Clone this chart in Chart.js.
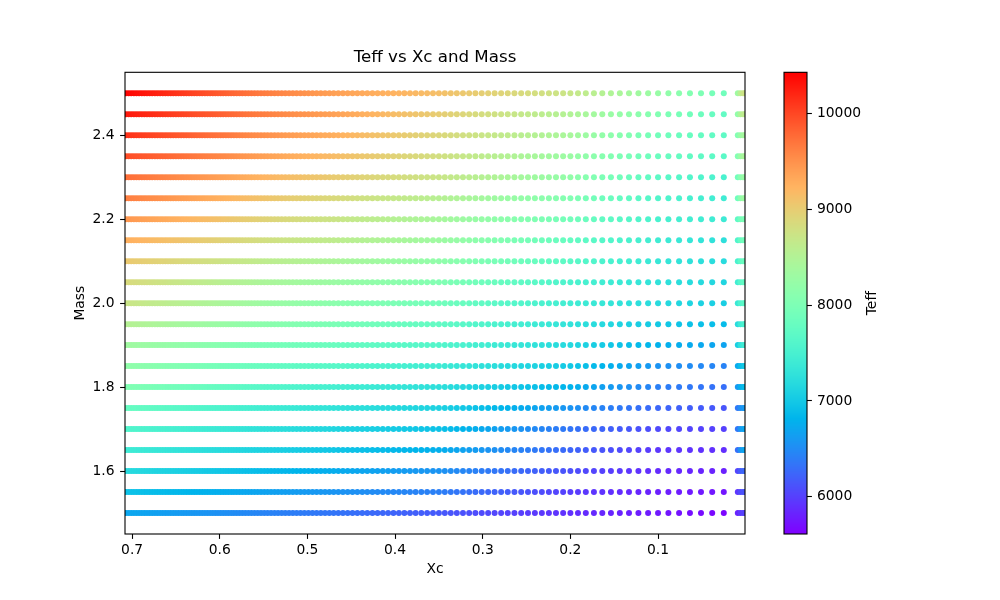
<!DOCTYPE html>
<html><head><meta charset="utf-8">
<script src="https://cdn.jsdelivr.net/npm/chart.js@4.4.1/dist/chart.umd.min.js"></script>
<style>html,body{margin:0;padding:0;background:#fff;}#wrap{position:relative;width:1000px;height:600px;}canvas{position:absolute;left:0;top:0;}</style>
</head><body><div id="wrap"><canvas id="main" width="1000" height="600"></canvas><canvas id="cbar" width="1000" height="600"></canvas></div>
<script>
// ---- data ----
const masses = [2.50,2.45,2.40,2.35,2.30,2.25,2.20,2.15,2.10,2.05,2.00,1.95,1.90,1.85,1.80,1.75,1.70,1.65,1.60,1.55,1.50];
const xcGrid = [0.710,0.707,0.704,0.701,0.698,0.695,0.692,0.689,0.686,0.683,0.680,0.677,0.674,0.671,0.668,0.665,0.662,0.659,0.656,0.653,0.650,0.647,0.644,0.641,0.638,0.635,0.632,0.629,0.626,0.623,0.620,0.617,0.614,0.611,0.608,0.605,0.602,0.599,0.596,0.593,0.590,
0.58697,0.58387,0.5807,0.57747,0.57417,0.5708,0.56737,0.56387,0.5603,0.55667,0.55297,0.5492,0.54537,0.54147,0.5375,0.53347,0.52937,0.5252,0.52097,0.51667,0.5123,0.50787,0.50337,0.4988,0.49417,0.48947,0.4847,0.47987,0.47497,0.47,
0.46476,0.45944,0.45404,0.44856,0.443,0.43736,0.43164,0.42584,0.41996,0.414,0.40796,0.40184,0.39564,0.38936,0.383,0.37656,0.37004,0.36344,0.35676,0.35,
0.34326,0.33644,0.32954,0.32256,0.3155,0.30836,0.30114,0.29384,0.28646,0.279,0.27146,0.26384,0.25614,0.24836,0.2405,0.23256,0.22454,0.21644,0.20826,0.20,
0.19135,0.1824,0.17315,0.1636,0.15375,0.1436,0.13315,0.1224,0.11135,0.10,
0.0882,0.076,0.0636,0.051,0.0382,0.025,
0.009,0.006,0.003,0.001];
const teffM250 = [10430,10415,10400,10385,10370,10355,10340,10325,10310,10295,10280,10265,10250,10235,10220,10205,10190,10175,10160,10145,10130,10115,10100,10085,10070,10055,10040,10025,10010,9995,9980,9965,9950,9935,9920,9905,9890,9875,9860,9845,9830,
9815,9801,9786,9771,9757,9742,9727,9713,9698,9683,9669,9654,9639,9625,9610,9595,9581,9566,9551,9537,9522,9507,9493,9478,9463,9449,9434,9419,9405,9390,
9377,9364,9351,9338,9325,9312,9299,9286,9273,9260,9247,9234,9221,9208,9195,9182,9169,9156,9143,9130,
9109,9088,9067,9046,9025,9004,8983,8962,8941,8920,8899,8878,8857,8836,8815,8794,8773,8752,8731,8710,
8664,8618,8572,8526,8480,8434,8388,8342,8296,8250,
8188,8127,8065,8003,7942,7880,
8320,8580,8710,8750];
const teffM245 = [10300,10288,10275,10263,10250,10238,10225,10213,10200,10188,10175,10163,10150,10138,10125,10113,10100,10088,10075,10063,10050,10038,10025,10013,10000,9988,9975,9963,9950,9938,9925,9913,9900,9888,9875,9863,9850,9838,9825,9813,9800,
9786,9772,9758,9744,9730,9716,9702,9688,9674,9660,9646,9632,9618,9604,9590,9576,9562,9548,9534,9520,9506,9492,9478,9464,9450,9436,9422,9408,9394,9380,
9361,9342,9323,9304,9285,9266,9247,9228,9209,9190,9171,9152,9133,9114,9095,9076,9057,9038,9019,9000,
8975,8950,8925,8900,8875,8850,8825,8800,8775,8750,8725,8700,8675,8650,8625,8600,8575,8550,8525,8500,
8455,8410,8365,8320,8275,8230,8185,8140,8095,8050,
8000,7950,7900,7850,7800,7750,
8185,8450,8580,8620];
const teffM240 = [10150,10138,10126,10114,10102,10090,10078,10066,10054,10042,10030,10018,10006,9994,9982,9970,9958,9946,9934,9922,9910,9898,9886,9874,9862,9850,9838,9826,9814,9802,9790,9778,9766,9754,9742,9730,9718,9706,9694,9682,9670,
9657,9643,9630,9617,9603,9590,9577,9563,9550,9537,9523,9510,9497,9483,9470,9457,9443,9430,9417,9403,9390,9377,9363,9350,9337,9323,9310,9297,9283,9270,
9251,9232,9213,9194,9175,9156,9137,9118,9099,9080,9061,9042,9023,9004,8985,8966,8947,8928,8909,8890,
8866,8842,8818,8794,8770,8746,8722,8698,8674,8650,8626,8602,8578,8554,8530,8506,8482,8458,8434,8410,
8359,8308,8257,8206,8155,8104,8053,8002,7951,7900,
7870,7840,7810,7780,7750,7720,
8050,8250,8350,8380];
const teffM235 = [9980,9969,9958,9947,9936,9925,9914,9903,9892,9881,9870,9859,9848,9837,9826,9815,9804,9793,9782,9771,9760,9749,9738,9727,9716,9705,9694,9683,9672,9661,9650,9639,9628,9617,9606,9595,9584,9573,9562,9551,9540,
9527,9515,9502,9489,9477,9464,9451,9439,9426,9413,9401,9388,9375,9363,9350,9337,9325,9312,9299,9287,9274,9261,9249,9236,9223,9211,9198,9185,9173,9160,
9142,9124,9106,9088,9070,9052,9034,9016,8998,8980,8962,8944,8926,8908,8890,8872,8854,8836,8818,8800,
8774,8748,8722,8696,8670,8644,8618,8592,8566,8540,8514,8488,8462,8436,8410,8384,8358,8332,8306,8280,
8235,8190,8145,8100,8055,8010,7965,7920,7875,7830,
7805,7780,7755,7730,7705,7680,
8050,8270,8380,8420];
const teffM230 = [9760,9750,9740,9730,9720,9710,9700,9690,9680,9670,9660,9650,9640,9630,9620,9610,9600,9590,9580,9570,9560,9550,9540,9530,9520,9510,9500,9490,9480,9470,9460,9450,9440,9430,9420,9410,9400,9390,9380,9370,9360,
9349,9337,9326,9315,9303,9292,9281,9269,9258,9247,9235,9224,9213,9201,9190,9179,9167,9156,9145,9133,9122,9111,9099,9088,9077,9065,9054,9043,9031,9020,
9005,8990,8975,8960,8945,8930,8915,8900,8885,8870,8855,8840,8825,8810,8795,8780,8765,8750,8735,8720,
8694,8668,8642,8616,8590,8564,8538,8512,8486,8460,8434,8408,8382,8356,8330,8304,8278,8252,8226,8200,
8150,8100,8050,8000,7950,7900,7850,7800,7750,7700,
7670,7640,7610,7580,7550,7520,
7890,8100,8210,8250];
const teffM225 = [9650,9640,9629,9619,9608,9598,9587,9577,9566,9556,9545,9535,9524,9514,9503,9493,9482,9472,9461,9451,9440,9430,9419,9409,9398,9388,9377,9367,9356,9346,9335,9325,9314,9304,9293,9283,9272,9262,9251,9241,9230,
9218,9206,9194,9182,9170,9158,9146,9134,9122,9110,9098,9086,9074,9062,9050,9038,9026,9014,9002,8990,8978,8966,8954,8942,8930,8918,8906,8894,8882,8870,
8854,8838,8822,8806,8790,8774,8758,8742,8726,8710,8694,8678,8662,8646,8630,8614,8598,8582,8566,8550,
8525,8500,8475,8450,8425,8400,8375,8350,8325,8300,8275,8250,8225,8200,8175,8150,8125,8100,8075,8050,
8005,7960,7915,7870,7825,7780,7735,7690,7645,7600,
7570,7540,7510,7480,7450,7420,
7860,8120,8260,8300];
const teffM220 = [9470,9460,9450,9440,9430,9420,9410,9400,9390,9380,9370,9360,9350,9340,9330,9320,9310,9300,9290,9280,9270,9260,9250,9240,9230,9220,9210,9200,9190,9180,9170,9160,9150,9140,9130,9120,9110,9100,9090,9080,9070,
9059,9047,9036,9025,9013,9002,8991,8979,8968,8957,8945,8934,8923,8911,8900,8889,8877,8866,8855,8843,8832,8821,8809,8798,8787,8775,8764,8753,8741,8730,
8714,8698,8682,8666,8650,8634,8618,8602,8586,8570,8554,8538,8522,8506,8490,8474,8458,8442,8426,8410,
8385,8360,8335,8310,8285,8260,8235,8210,8185,8160,8135,8110,8085,8060,8035,8010,7985,7960,7935,7910,
7871,7832,7793,7754,7715,7676,7637,7598,7559,7520,
7500,7480,7460,7440,7420,7400,
7700,7880,7970,8000];
const teffM215 = [9280,9271,9262,9253,9244,9235,9226,9217,9208,9199,9190,9181,9172,9163,9154,9145,9136,9127,9118,9109,9100,9091,9082,9073,9064,9055,9046,9037,9028,9019,9010,9001,8992,8983,8974,8965,8956,8947,8938,8929,8920,
8910,8900,8890,8880,8870,8860,8850,8840,8830,8820,8810,8800,8790,8780,8770,8760,8750,8740,8730,8720,8710,8700,8690,8680,8670,8660,8650,8640,8630,8620,
8605,8590,8575,8560,8545,8530,8515,8500,8485,8470,8455,8440,8425,8410,8395,8380,8365,8350,8335,8320,
8293,8266,8239,8212,8185,8158,8131,8104,8077,8050,8023,7996,7969,7942,7915,7888,7861,7834,7807,7780,
7745,7710,7675,7640,7605,7570,7535,7500,7465,7430,
7400,7370,7340,7310,7280,7250,
7575,7770,7870,7900];
const teffM210 = [9050,9042,9034,9026,9018,9010,9002,8994,8986,8978,8970,8962,8954,8946,8938,8930,8922,8914,8906,8898,8890,8882,8874,8866,8858,8850,8842,8834,8826,8818,8810,8802,8794,8786,8778,8770,8762,8754,8746,8738,8730,
8721,8711,8702,8693,8683,8674,8665,8655,8646,8637,8627,8618,8609,8599,8590,8581,8571,8562,8553,8543,8534,8525,8515,8506,8497,8487,8478,8469,8459,8450,
8437,8424,8411,8398,8385,8372,8359,8346,8333,8320,8307,8294,8281,8268,8255,8242,8229,8216,8203,8190,
8165,8140,8115,8090,8065,8040,8015,7990,7965,7940,7915,7890,7865,7840,7815,7790,7765,7740,7715,7690,
7656,7622,7588,7554,7520,7486,7452,7418,7384,7350,
7325,7300,7275,7250,7225,7200,
7515,7705,7800,7830];
const teffM205 = [8870,8862,8854,8846,8838,8830,8822,8814,8806,8798,8790,8782,8774,8766,8758,8750,8742,8734,8726,8718,8710,8702,8694,8686,8678,8670,8662,8654,8646,8638,8630,8622,8614,8606,8598,8590,8582,8574,8566,8558,8550,
8541,8533,8524,8515,8507,8498,8489,8481,8472,8463,8455,8446,8437,8429,8420,8411,8403,8394,8385,8377,8368,8359,8351,8342,8333,8325,8316,8307,8299,8290,
8278,8266,8254,8242,8230,8218,8206,8194,8182,8170,8158,8146,8134,8122,8110,8098,8086,8074,8062,8050,
8025,8000,7975,7950,7925,7900,7875,7850,7825,7800,7775,7750,7725,7700,7675,7650,7625,7600,7575,7550,
7523,7496,7469,7442,7415,7388,7361,7334,7307,7280,
7255,7230,7205,7180,7155,7130,
7440,7625,7720,7750];
const teffM200 = [8740,8732,8724,8716,8708,8700,8692,8684,8676,8668,8660,8652,8644,8636,8628,8620,8612,8604,8596,8588,8580,8572,8564,8556,8548,8540,8532,8524,8516,8508,8500,8492,8484,8476,8468,8460,8452,8444,8436,8428,8420,
8411,8401,8392,8383,8373,8364,8355,8345,8336,8327,8317,8308,8299,8289,8280,8271,8261,8252,8243,8233,8224,8215,8205,8196,8187,8177,8168,8159,8149,8140,
8128,8116,8104,8092,8080,8068,8056,8044,8032,8020,8008,7996,7984,7972,7960,7948,7936,7924,7912,7900,
7877,7854,7831,7808,7785,7762,7739,7716,7693,7670,7647,7624,7601,7578,7555,7532,7509,7486,7463,7440,
7416,7392,7368,7344,7320,7296,7272,7248,7224,7200,
7175,7150,7125,7100,7075,7050,
7365,7555,7650,7680];
const teffM195 = [8550,8543,8535,8528,8520,8513,8505,8498,8490,8483,8475,8468,8460,8453,8445,8438,8430,8423,8415,8408,8400,8393,8385,8378,8370,8363,8355,8348,8340,8333,8325,8318,8310,8303,8295,8288,8280,8273,8265,8258,8250,
8241,8233,8224,8215,8207,8198,8189,8181,8172,8163,8155,8146,8137,8129,8120,8111,8103,8094,8085,8077,8068,8059,8051,8042,8033,8025,8016,8007,7999,7990,
7978,7966,7954,7942,7930,7918,7906,7894,7882,7870,7858,7846,7834,7822,7810,7798,7786,7774,7762,7750,
7727,7704,7681,7658,7635,7612,7589,7566,7543,7520,7497,7474,7451,7428,7405,7382,7359,7336,7313,7290,
7261,7232,7203,7174,7145,7116,7087,7058,7029,7000,
6980,6960,6940,6920,6900,6880,
7200,7390,7490,7520];
const teffM190 = [8350,8343,8336,8329,8322,8315,8308,8301,8294,8287,8280,8273,8266,8259,8252,8245,8238,8231,8224,8217,8210,8203,8196,8189,8182,8175,8168,8161,8154,8147,8140,8133,8126,8119,8112,8105,8098,8091,8084,8077,8070,
8062,8054,8046,8038,8030,8022,8014,8006,7998,7990,7982,7974,7966,7958,7950,7942,7934,7926,7918,7910,7902,7894,7886,7878,7870,7862,7854,7846,7838,7830,
7819,7808,7797,7786,7775,7764,7753,7742,7731,7720,7709,7698,7687,7676,7665,7654,7643,7632,7621,7610,
7588,7566,7544,7522,7500,7478,7456,7434,7412,7390,7368,7346,7324,7302,7280,7258,7236,7214,7192,7170,
7133,7096,7059,7022,6985,6948,6911,6874,6837,6800,
6780,6760,6740,6720,6700,6680,
7050,7270,7380,7420];
const teffM185 = [8200,8193,8185,8178,8170,8163,8155,8148,8140,8133,8125,8118,8110,8103,8095,8088,8080,8073,8065,8058,8050,8043,8035,8028,8020,8013,8005,7998,7990,7983,7975,7968,7960,7953,7945,7938,7930,7923,7915,7908,7900,
7892,7884,7876,7868,7860,7852,7844,7836,7828,7820,7812,7804,7796,7788,7780,7772,7764,7756,7748,7740,7732,7724,7716,7708,7700,7692,7684,7676,7668,7660,
7648,7636,7624,7612,7600,7588,7576,7564,7552,7540,7528,7516,7504,7492,7480,7468,7456,7444,7432,7420,
7399,7378,7357,7336,7315,7294,7273,7252,7231,7210,7189,7168,7147,7126,7105,7084,7063,7042,7021,7000,
6956,6912,6868,6824,6780,6736,6692,6648,6604,6560,
6540,6520,6500,6480,6460,6440,
6720,6890,6970,7000];
const teffM180 = [8050,8043,8035,8028,8020,8013,8005,7998,7990,7983,7975,7968,7960,7953,7945,7938,7930,7923,7915,7908,7900,7893,7885,7878,7870,7863,7855,7848,7840,7833,7825,7818,7810,7803,7795,7788,7780,7773,7765,7758,7750,
7741,7733,7724,7715,7707,7698,7689,7681,7672,7663,7655,7646,7637,7629,7620,7611,7603,7594,7585,7577,7568,7559,7551,7542,7533,7525,7516,7507,7499,7490,
7478,7466,7454,7442,7430,7418,7406,7394,7382,7370,7358,7346,7334,7322,7310,7298,7286,7274,7262,7250,
7228,7206,7184,7162,7140,7118,7096,7074,7052,7030,7008,6986,6964,6942,6920,6898,6876,6854,6832,6810,
6771,6732,6693,6654,6615,6576,6537,6498,6459,6420,
6400,6380,6360,6340,6320,6300,
6590,6760,6850,6880];
const teffM175 = [7800,7794,7787,7781,7774,7768,7761,7755,7748,7742,7735,7729,7722,7716,7709,7703,7696,7690,7683,7677,7670,7664,7657,7651,7644,7638,7631,7625,7618,7612,7605,7599,7592,7586,7579,7573,7566,7560,7553,7547,7540,
7532,7524,7516,7508,7500,7492,7484,7476,7468,7460,7452,7444,7436,7428,7420,7412,7404,7396,7388,7380,7372,7364,7356,7348,7340,7332,7324,7316,7308,7300,
7290,7280,7270,7260,7250,7240,7230,7220,7210,7200,7190,7180,7170,7160,7150,7140,7130,7120,7110,7100,
7073,7046,7019,6992,6965,6938,6911,6884,6857,6830,6803,6776,6749,6722,6695,6668,6641,6614,6587,6560,
6529,6498,6467,6436,6405,6374,6343,6312,6281,6250,
6230,6210,6190,6170,6150,6130,
6365,6505,6575,6600];
const teffM170 = [7600,7594,7588,7582,7576,7570,7564,7558,7552,7546,7540,7534,7528,7522,7516,7510,7504,7498,7492,7486,7480,7474,7468,7462,7456,7450,7444,7438,7432,7426,7420,7414,7408,7402,7396,7390,7384,7378,7372,7366,7360,
7353,7345,7338,7331,7323,7316,7309,7301,7294,7287,7279,7272,7265,7257,7250,7243,7235,7228,7221,7213,7206,7199,7191,7184,7177,7169,7162,7155,7147,7140,
7130,7120,7110,7100,7090,7080,7070,7060,7050,7040,7030,7020,7010,7000,6990,6980,6970,6960,6950,6940,
6910,6880,6850,6820,6790,6760,6730,6700,6670,6640,6610,6580,6550,6520,6490,6460,6430,6400,6370,6340,
6312,6284,6256,6228,6200,6172,6144,6116,6088,6060,
6050,6040,6030,6020,6010,6000,
6350,6560,6665,6700];
const teffM165 = [7420,7414,7408,7402,7396,7390,7384,7378,7372,7366,7360,7354,7348,7342,7336,7330,7324,7318,7312,7306,7300,7294,7288,7282,7276,7270,7264,7258,7252,7246,7240,7234,7228,7222,7216,7210,7204,7198,7192,7186,7180,
7173,7167,7160,7153,7147,7140,7133,7127,7120,7113,7107,7100,7093,7087,7080,7073,7067,7060,7053,7047,7040,7033,7027,7020,7013,7007,7000,6993,6987,6980,
6970,6960,6950,6940,6930,6920,6910,6900,6890,6880,6870,6860,6850,6840,6830,6820,6810,6800,6790,6780,
6753,6726,6699,6672,6645,6618,6591,6564,6537,6510,6483,6456,6429,6402,6375,6348,6321,6294,6267,6240,
6211,6182,6153,6124,6095,6066,6037,6008,5979,5950,
5940,5930,5920,5910,5900,5890,
6295,6540,6660,6700];
const teffM160 = [7200,7194,7188,7182,7176,7170,7164,7158,7152,7146,7140,7134,7128,7122,7116,7110,7104,7098,7092,7086,7080,7074,7068,7062,7056,7050,7044,7038,7032,7026,7020,7014,7008,7002,6996,6990,6984,6978,6972,6966,6960,
6953,6947,6940,6933,6927,6920,6913,6907,6900,6893,6887,6880,6873,6867,6860,6853,6847,6840,6833,6827,6820,6813,6807,6800,6793,6787,6780,6773,6767,6760,
6750,6740,6730,6720,6710,6700,6690,6680,6670,6660,6650,6640,6630,6620,6610,6600,6590,6580,6570,6560,
6537,6514,6491,6468,6445,6422,6399,6376,6353,6330,6307,6284,6261,6238,6215,6192,6169,6146,6123,6100,
6077,6054,6031,6008,5985,5962,5939,5916,5893,5870,
5860,5850,5840,5830,5820,5810,
6030,6160,6230,6250];
const teffM155 = [6950,6945,6940,6935,6930,6925,6920,6915,6910,6905,6900,6895,6890,6885,6880,6875,6870,6865,6860,6855,6850,6845,6840,6835,6830,6825,6820,6815,6810,6805,6800,6795,6790,6785,6780,6775,6770,6765,6760,6755,6750,
6744,6738,6732,6726,6720,6714,6708,6702,6696,6690,6684,6678,6672,6666,6660,6654,6648,6642,6636,6630,6624,6618,6612,6606,6600,6594,6588,6582,6576,6570,
6562,6554,6546,6538,6530,6522,6514,6506,6498,6490,6482,6474,6466,6458,6450,6442,6434,6426,6418,6410,
6389,6368,6347,6326,6305,6284,6263,6242,6221,6200,6179,6158,6137,6116,6095,6074,6053,6032,6011,5990,
5971,5952,5933,5914,5895,5876,5857,5838,5819,5800,
5790,5780,5770,5760,5750,5740,
5930,6050,6100,6120];
const teffM150 = [6720,6715,6710,6705,6700,6695,6690,6685,6680,6675,6670,6665,6660,6655,6650,6645,6640,6635,6630,6625,6620,6615,6610,6605,6600,6595,6590,6585,6580,6575,6570,6565,6560,6555,6550,6545,6540,6535,6530,6525,6520,
6514,6508,6502,6496,6490,6484,6478,6472,6466,6460,6454,6448,6442,6436,6430,6424,6418,6412,6406,6400,6394,6388,6382,6376,6370,6364,6358,6352,6346,6340,
6331,6322,6313,6304,6295,6286,6277,6268,6259,6250,6241,6232,6223,6214,6205,6196,6187,6178,6169,6160,
6147,6134,6121,6108,6095,6082,6069,6056,6043,6030,6017,6004,5991,5978,5965,5952,5939,5926,5913,5900,
5886,5872,5858,5844,5830,5816,5802,5788,5774,5760,
5740,5720,5700,5680,5660,5640,
5820,5940,5990,6000];
const teffRows = [teffM250,teffM245,teffM240,teffM235,teffM230,teffM225,teffM220,teffM215,teffM210,teffM205,teffM200,
  teffM195,teffM190,teffM185,teffM180,teffM175,teffM170,teffM165,teffM160,teffM155,teffM150];
const xTickValues = [0.7,0.6,0.5,0.4,0.3,0.2,0.1];
const yTickValues = [1.6,1.8,2.0,2.2,2.4];
const cbTickValues = [6000,7000,8000,9000,10000];
const xcRange = [0.0008, 0.7081];
const massRange = [1.45, 2.55];
const teffRange = [5611, 10431];

// ---- styling ----
const FONT = "'DejaVu Sans', sans-serif";
const FS = 13.89;
function rainbow(f) {
  f = Math.min(1, Math.max(0, f));
  const r = Math.min(1, Math.abs(2 * f - 0.5));
  const g = Math.min(1, Math.max(0, Math.sin(Math.PI * f)));
  const b = Math.min(1, Math.max(0, Math.cos(Math.PI * f / 2)));
  return 'rgb(' + Math.round(r * 255) + ',' + Math.round(g * 255) + ',' + Math.round(b * 255) + ')';
}
function teffColor(t) { return rainbow((t - teffRange[0]) / (teffRange[1] - teffRange[0])); }

const datasets = masses.map((m, ri) => {
  const row = teffRows[ri];
  const pts = [];
  xcGrid.forEach((xc, i) => { if (row[i] !== undefined) pts.push({x: xc, y: m, t: row[i]}); });
  return {
    data: pts,
    pointBackgroundColor: pts.map(p => teffColor(p.t)),
    pointBorderWidth: 0,
    pointRadius: 3.0,
    pointHoverRadius: 3.0,
    showLine: false,
    clip: 0
  };
});

const spines = {
  id: 'spines',
  afterDatasetsDraw(chart) {
    const a = chart.chartArea, ctx = chart.ctx;
    ctx.save();
    ctx.strokeStyle = '#000';
    ctx.lineWidth = 1.1;
    ctx.strokeRect(a.left, a.top, a.right - a.left, a.bottom - a.top);
    ctx.restore();
  }
};

const tickGrid = {drawOnChartArea: false, drawTicks: true, tickLength: 4.9, tickWidth: 1.1, tickColor: '#000'};

new Chart(document.getElementById('main'), {
  type: 'scatter',
  data: {datasets},
  options: {
    responsive: false, animation: false, devicePixelRatio: 1,
    events: [],
    layout: {padding: {left: 0, right: 255, top: 0, bottom: 0}},
    plugins: {
      legend: {display: false}, tooltip: {enabled: false},
      title: {display: true, text: 'Teff vs Xc and Mass', fullSize: false, color: '#000',
        font: {family: FONT, size: 16.67, weight: 'normal'}, padding: {top: 48, bottom: 4.3}}
    },
    scales: {
      x: {
        type: 'linear', reverse: true, min: xcRange[0], max: xcRange[1],
        afterBuildTicks: s => { s.ticks = xTickValues.map(v => ({value: v})); },
        afterFit: s => { s.height = 66; },
        ticks: {color: '#000', font: {family: FONT, size: FS}, padding: 3, maxRotation: 0, autoSkip: false,
          callback: v => Number(v).toFixed(1)},
        grid: tickGrid, border: {display: false},
        title: {display: true, text: 'Xc', color: '#000', font: {family: FONT, size: FS}, padding: {top: 0, bottom: 22.7}}
      },
      y: {
        type: 'linear', min: massRange[0], max: massRange[1],
        afterBuildTicks: s => { s.ticks = yTickValues.map(v => ({value: v})); },
        afterFit: s => { s.width = 125; },
        ticks: {color: '#000', font: {family: FONT, size: FS}, padding: 5.5, autoSkip: false,
          callback: v => Number(v).toFixed(1)},
        grid: tickGrid, border: {display: false},
        title: {display: true, text: 'Mass', color: '#000', font: {family: FONT, size: FS}, padding: {top: 72, bottom: 0}}
      }
    }
  },
  plugins: [spines]
});

// ---- colour bar ----
const cbarPaint = {
  id: 'cbarPaint',
  beforeDatasetsDraw(chart) {
    const a = chart.chartArea, ctx = chart.ctx, sc = chart.scales.y;
    ctx.save();
    for (let y = Math.floor(a.top); y < a.bottom; y++) {
      const v = sc.getValueForPixel(y + 0.5);
      ctx.fillStyle = teffColor(v);
      ctx.fillRect(a.left, y, a.right - a.left, 1);
    }
    ctx.restore();
  },
  afterDraw(chart) {
    const a = chart.chartArea, ctx = chart.ctx;
    ctx.save();
    ctx.strokeStyle = '#000';
    ctx.lineWidth = 1.1;
    ctx.strokeRect(a.left, a.top, a.right - a.left, a.bottom - a.top);
    ctx.translate(872, (a.top + a.bottom) / 2);
    ctx.rotate(-Math.PI / 2);
    ctx.fillStyle = '#000';
    ctx.font = FS + 'px ' + FONT;
    ctx.textAlign = 'center';
    ctx.textBaseline = 'middle';
    ctx.fillText('Teff', 0, 0);
    ctx.restore();
  }
};

new Chart(document.getElementById('cbar'), {
  type: 'scatter',
  data: {datasets: [{data: []}]},
  options: {
    responsive: false, animation: false, devicePixelRatio: 1,
    events: [],
    layout: {padding: {left: 784, right: 133, top: 72.3, bottom: 66}},
    plugins: {legend: {display: false}, tooltip: {enabled: false}},
    scales: {
      x: {display: false, min: 0, max: 1},
      y: {
        type: 'linear', position: 'right', min: teffRange[0], max: teffRange[1],
        afterBuildTicks: s => { s.ticks = cbTickValues.map(v => ({value: v})); },
        afterFit: s => { s.width = 60; },
        ticks: {color: '#000', font: {family: FONT, size: FS}, padding: 5, autoSkip: false,
          callback: v => String(v)},
        grid: tickGrid, border: {display: false}
      }
    }
  },
  plugins: [cbarPaint]
});
</script>
</body></html>
